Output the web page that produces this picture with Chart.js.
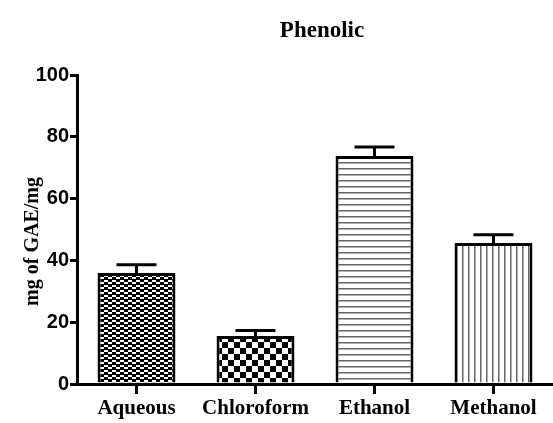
<!DOCTYPE html>
<html>
<head>
<meta charset="utf-8">
<script src="https://cdn.jsdelivr.net/npm/chart.js@4"></script>
<style>
  html, body { margin: 0; padding: 0; background: #fff; }
  #wrap { width: 553px; height: 423px; position: relative; }
</style>
</head>
<body>
<div id="wrap"><canvas id="c" width="553" height="423"></canvas></div>
<script>
// Total phenolic content by extraction solvent (mean with SEM)
const categories = ['Aqueous', 'Chloroform', 'Ethanol', 'Methanol'];
const meanValues = [35.9, 15.5, 73.8, 45.6];
const semValues = [2.7, 1.8, 2.9, 2.7];
const yTickValues = [0, 20, 40, 60, 80, 100];

// Fill patterns for the bars
function makePattern(w, h, draw) {
  const cv = document.createElement('canvas');
  cv.width = w; cv.height = h;
  const g = cv.getContext('2d');
  g.fillStyle = '#fff';
  g.fillRect(0, 0, w, h);
  draw(g);
  return g.createPattern(cv, 'repeat');
}
const brickPattern = makePattern(8, 5, g => {
  g.fillStyle = '#000';
  g.fillRect(0, 0, 8, 5);
  g.fillStyle = '#fff';
  g.fillRect(0, 0, 4, 2);
  g.fillRect(4, 2, 4, 2);
});
const checkerPattern = makePattern(12, 12, g => {
  g.fillStyle = '#000';
  g.fillRect(0, 0, 6, 6);
  g.fillRect(6, 6, 6, 6);
});
const hLinePattern = makePattern(6, 6, g => {
  g.fillStyle = '#666';
  g.fillRect(0, 0, 6, 1.5);
});
const vLinePattern = makePattern(6, 6, g => {
  g.fillStyle = '#666';
  g.fillRect(0, 0, 1.5, 6);
});
const fills = [brickPattern, checkerPattern, hLinePattern, vLinePattern];

// Upward error bars with caps
const errorBars = {
  id: 'errorBars',
  afterDatasetsDraw(chart) {
    const ctx = chart.ctx;
    const y = chart.scales.y;
    const meta = chart.getDatasetMeta(0);
    ctx.save();
    ctx.strokeStyle = '#000';
    ctx.lineWidth = 3;
    meta.data.forEach((bar, i) => {
      const top = y.getPixelForValue(meanValues[i] + semValues[i]);
      ctx.beginPath();
      ctx.moveTo(bar.x, bar.y);
      ctx.lineTo(bar.x, top);
      ctx.moveTo(bar.x - 20, top);
      ctx.lineTo(bar.x + 20, top);
      ctx.stroke();
    });
    ctx.restore();
  }
};

// Chart title and vertical axis title
const titles = {
  id: 'titles',
  afterDraw(chart) {
    const ctx = chart.ctx;
    const a = chart.chartArea;
    ctx.save();
    ctx.fillStyle = '#000';
    ctx.textAlign = 'center';
    ctx.textBaseline = 'alphabetic';
    ctx.font = 'bold 23px "Liberation Serif", "Times New Roman", serif';
    ctx.fillText('Phenolic', (a.left + a.right) / 2 + 7, 37);
    ctx.translate(38, (a.top + a.bottom) / 2 + 12);
    ctx.rotate(-Math.PI / 2);
    ctx.font = 'bold 20px "Liberation Serif", "Times New Roman", serif';
    ctx.fillText('mg of GAE/mg', 0, 0);
    ctx.restore();
  }
};

new Chart(document.getElementById('c'), {
  type: 'bar',
  data: {
    labels: categories,
    datasets: [{
      data: meanValues,
      backgroundColor: fills,
      borderColor: '#000',
      borderWidth: 3,
      borderSkipped: 'bottom',
      barPercentage: 0.655,
      categoryPercentage: 1
    }]
  },
  options: {
    responsive: false,
    animation: false,
    devicePixelRatio: 1,
    layout: { padding: { top: 75, left: 0, right: 0, bottom: 0 } },
    plugins: { legend: { display: false }, title: { display: false }, tooltip: { enabled: false } },
    scales: {
      x: {
        offset: true,
        grid: { display: true, drawOnChartArea: false, drawTicks: true, tickLength: 10, lineWidth: 3, color: '#000', offset: false },
        border: { display: true, width: 3, color: '#000' },
        ticks: { color: '#000', padding: 2, maxRotation: 0, autoSkip: false,
          font: { family: '"Liberation Serif", "Times New Roman", serif', weight: 'bold', size: 21 } },
        afterFit(s) { s.height = 39; }
      },
      y: {
        min: 0, max: 100,
        afterBuildTicks(s) { s.ticks = yTickValues.map(v => ({ value: v })); },
        grid: { display: true, drawOnChartArea: false, drawTicks: true, tickLength: 7, lineWidth: 3, color: '#000' },
        border: { display: true, width: 3, color: '#000' },
        ticks: { color: '#000', padding: 1,
          font: { family: '"Liberation Sans", Arial, sans-serif', weight: 'bold', size: 20 } },
        afterFit(s) { s.width = 77; }
      }
    }
  },
  plugins: [errorBars, titles]
});
</script>
</body>
</html>
